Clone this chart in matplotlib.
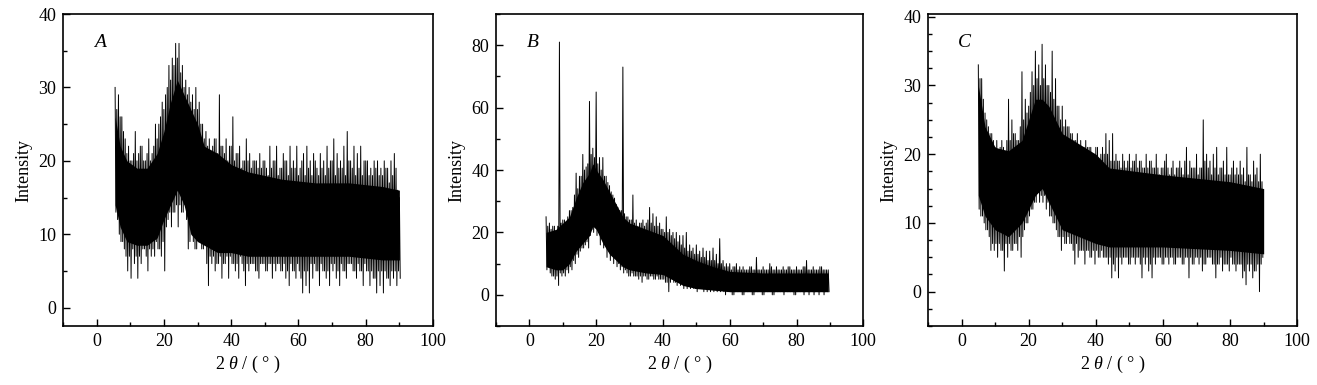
import matplotlib
matplotlib.use("Agg")
import matplotlib.pyplot as plt
from matplotlib.ticker import MultipleLocator
import numpy as np

plt.rcParams['font.family'] = ['Liberation Serif', 'DejaVu Serif']
plt.rcParams['mathtext.fontset'] = 'custom'
plt.rcParams['mathtext.rm'] = 'Liberation Serif'
plt.rcParams['mathtext.it'] = 'Liberation Serif:italic'

# noisy traces: per degree a big spike up (top), a smaller one (top2),
# and two spikes down (bot2, bot); the core lists give the solid black band
a_start = 5.5
a_top = [30, 29, 26, 23, 22, 20, 24, 21, 22, 20, 23, 21, 25, 25, 28, 29, 33, 34, 36, 36,
         33, 31, 30, 29, 30, 28, 25, 24, 23, 22, 23, 29, 22, 23, 22, 26, 21, 22, 20, 23,
         21, 20, 20, 21, 20, 19, 22, 20, 22, 19, 21, 20, 22, 20, 22, 19, 21, 22, 20, 21,
         19, 21, 20, 22, 20, 23, 21, 20, 22, 24, 20, 22, 21, 22, 20, 20, 19, 20, 20, 19,
         20, 19, 20, 21, 16]
a_top2 = [27, 26, 24, 21, 20, 21, 20, 22, 20, 21, 20, 22, 23, 26, 27, 30, 31, 33, 34, 32,
          30, 29, 28, 27, 27, 25, 23, 22, 21, 23, 21, 22, 21, 20, 22, 20, 21, 19, 20, 20,
          19, 20, 19, 19, 20, 18, 19, 20, 18, 19, 20, 18, 19, 19, 18, 20, 18, 19, 18, 20,
          18, 19, 18, 19, 20, 18, 19, 19, 18, 20, 19, 18, 19, 18, 20, 18, 18, 19, 18, 18,
          19, 17, 18, 19, 15]
a_bot2 = [13, 10, 9, 7, 7, 8, 7, 7, 8, 7, 8, 8, 9, 8, 9, 11, 13, 13, 14, 14,
          13, 12, 9, 9, 8, 9, 8, 6, 7, 7, 6, 7, 6, 7, 7, 6, 6, 7, 5, 6,
          6, 6, 5, 6, 6, 5, 6, 6, 6, 5, 6, 5, 6, 5, 6, 4, 5, 5, 6, 6,
          5, 6, 5, 5, 6, 6, 5, 6, 5, 6, 6, 5, 6, 5, 6, 5, 5, 4, 5, 5,
          5, 4, 5, 5, 5]
a_bot = [12, 9, 8, 5, 4, 6, 4, 6, 8, 5, 7, 7, 8, 7, 5, 12, 11, 13, 11, 13,
         14, 8, 11, 8, 11, 8, 10, 3, 6, 5, 6, 4, 6, 4, 6, 5, 4, 6, 3, 5,
         6, 5, 4, 6, 5, 6, 4, 5, 6, 5, 4, 3, 5, 4, 5, 2, 3, 2, 4, 5,
         3, 5, 4, 3, 5, 4, 3, 5, 4, 6, 5, 4, 5, 3, 5, 3, 4, 2, 3, 2,
         4, 3, 4, 3, 4]
a_core_x = [5.5, 7, 9, 12, 15, 18, 20, 22, 24, 26, 28, 30, 32, 36, 40, 45, 55, 65, 75, 85, 90]
a_core_lo = [14, 11, 9, 8.5, 8.5, 9.5, 12, 14, 16, 14, 10, 9, 8.5, 7.5, 7.5, 7, 7, 7, 7, 6.5, 6.5]
a_core_hi = [26, 22, 20, 19, 19, 21, 24, 28, 31, 29, 27, 25, 22, 21, 19.5, 18.5, 17.5, 17, 17, 16.5, 16]

b_start = 5.0
b_top = [25, 23, 22, 20, 81, 24, 23, 27, 28, 39, 38, 45, 41, 62, 47, 65, 44, 44, 38, 35,
         32, 29, 27, 73, 25, 24, 32, 24, 23, 24, 23, 28, 26, 25, 23, 21, 25, 21, 20, 20,
         19, 19, 20, 16, 15, 16, 14, 15, 14, 14, 15, 13, 18, 11, 10, 10, 9, 10, 9, 9,
         8, 9, 8, 12, 8, 9, 8, 10, 8, 9, 8, 9, 8, 9, 8, 9, 8, 9, 11, 8,
         9, 8, 9, 8, 8]
b_top2 = [22, 21, 22, 22, 23, 24, 25, 27, 32, 34, 38, 40, 42, 45, 44, 42, 40, 38, 36, 33,
          31, 28, 27, 26, 25, 24, 23, 22, 23, 22, 24, 23, 22, 22, 21, 20, 20, 19, 18, 17,
          16, 15, 14, 14, 13, 13, 12, 12, 11, 11, 11, 10, 10, 9, 9, 8, 9, 8, 8, 8,
          8, 9, 8, 8, 8, 8, 8, 9, 8, 8, 8, 8, 9, 8, 8, 8, 8, 9, 8, 8,
          8, 8, 9, 8, 8]
b_bot2 = [8, 7, 6, 6, 7, 7, 8, 9, 11, 13, 14, 15, 17, 19, 20, 19, 16, 15, 12, 11,
          10, 9, 8, 7, 7, 6, 6, 6, 6, 6, 5, 6, 5, 6, 5, 5, 4, 4, 4, 3,
          3, 2, 2, 2, 2, 1, 2, 1, 1, 1, 1, 1, 1, 1, 1, 1, 0, 1, 1, 0,
          1, 1, 0, 1, 1, 0, 1, 1, 0, 1, 1, 0, 1, 1, 0, 1, 1, 0, 1, 1,
          0, 1, 1, 0, 1]
b_bot = [9, 6, 5, 3, 6, 6, 7, 8, 10, 12, 15, 16, 15, 21, 22, 20, 18, 16, 14, 13,
         12, 10, 9, 8, 6, 7, 6, 5, 4, 6, 5, 6, 5, 5, 5, 4, 1, 5, 4, 5,
         4, 3, 3, 3, 2, 3, 2, 3, 2, 2, 2, 3, 2, 0, 1, 0, 1, 1, 0, 1,
         1, 0, 1, 1, 0, 1, 1, 0, 1, 1, 1, 2, 1, 1, 0, 1, 1, 1, 0, 1,
         1, 0, 1, 1, 1]
b_core_x = [5, 8, 10, 12, 14, 16, 18, 19, 20, 22, 24, 26, 28, 30, 35, 40, 46, 50, 55, 60, 70, 80, 89.5]
b_core_lo = [9, 8, 8, 10, 14, 16.5, 19, 22, 21, 16.5, 13, 11, 9, 8, 7, 6.5, 3, 2, 1.5, 1, 1, 1, 1]
b_core_hi = [20, 21, 23, 25, 31, 36, 39, 42, 40, 37, 33, 29, 25, 23, 21, 19, 13, 11, 9, 7.5, 7, 7, 7]

c_start = 5.0
c_top = [33, 31, 26, 24, 23, 21, 20, 22, 19, 28, 25, 23, 22, 32, 28, 27, 32, 35, 33, 36,
         33, 30, 35, 31, 27, 27, 25, 24, 23, 22, 21, 20, 22, 21, 20, 21, 19, 21, 23, 22,
         23, 20, 19, 20, 18, 20, 19, 20, 19, 18, 20, 19, 18, 20, 17, 18, 20, 17, 19, 18,
         19, 17, 21, 19, 18, 20, 18, 25, 20, 19, 20, 21, 18, 19, 21, 17, 19, 18, 19, 18,
         21, 17, 19, 18, 20]
c_top2 = [31, 28, 25, 23, 22, 22, 21, 21, 22, 22, 23, 22, 24, 25, 26, 29, 30, 31, 30, 31,
          30, 29, 28, 27, 25, 24, 24, 23, 22, 23, 22, 21, 21, 21, 20, 21, 20, 20, 20, 19,
          19, 19, 18, 19, 19, 18, 19, 18, 19, 18, 18, 19, 18, 18, 18, 19, 18, 18, 17, 18,
          18, 19, 17, 18, 18, 17, 18, 19, 18, 17, 18, 17, 18, 17, 17, 18, 17, 17, 17, 16,
          17, 16, 17, 16, 16]
c_bot2 = [12, 11, 9, 8, 7, 7, 7, 6, 7, 7, 6, 7, 8, 8, 10, 11, 12, 13, 13, 13,
          12, 11, 10, 9, 8, 8, 7, 7, 6, 7, 6, 6, 6, 5, 6, 6, 5, 5, 5, 5,
          4, 5, 5, 5, 5, 4, 5, 5, 4, 5, 5, 4, 5, 5, 5, 4, 5, 5, 4, 5,
          5, 4, 5, 5, 4, 5, 5, 4, 5, 5, 4, 4, 5, 4, 4, 5, 4, 4, 4, 3,
          4, 4, 3, 4, 4]
c_bot = [11, 10, 9, 6, 6, 5, 6, 3, 5, 6, 7, 6, 5, 9, 10, 12, 13, 16, 14, 14,
         13, 11, 10, 8, 6, 7, 8, 7, 4, 5, 6, 4, 6, 5, 4, 5, 6, 5, 4, 2,
         3, 2, 4, 5, 4, 5, 4, 5, 2, 4, 3, 2, 4, 5, 4, 5, 4, 5, 4, 5,
         4, 5, 2, 4, 5, 4, 3, 4, 5, 4, 2, 4, 3, 4, 3, 4, 3, 4, 2, 1,
         3, 2, 3, 0, 5]
c_core_x = [5, 7, 10, 14, 18, 22, 24, 26, 28, 30, 35, 40, 44, 60, 80, 90]
c_core_lo = [14, 11, 9, 8, 10, 14, 15, 13, 11, 9, 8, 7, 6.5, 6.5, 6, 5.5]
c_core_hi = [30, 24, 21, 20.5, 22, 28, 28, 27, 25, 23, 21.5, 20, 18, 17, 16, 15]

panels = [
    ("A", a_start, (a_top, a_bot2, a_top2, a_bot), (a_core_x, a_core_lo, a_core_hi),
     (-2.5, 40), [0, 10, 20, 30, 40], 5),
    ("B", b_start, (b_top, b_bot2, b_top2, b_bot), (b_core_x, b_core_lo, b_core_hi),
     (-10, 90), [0, 20, 40, 60, 80], 10),
    ("C", c_start, (c_top, c_bot2, c_top2, c_bot), (c_core_x, c_core_lo, c_core_hi),
     (-5, 40.4), [0, 10, 20, 30, 40], 2.5),
]
lefts = [0.0478, 0.3766, 0.7046]
widths = [0.281, 0.2789, 0.2804]


def zigzag(start, series):
    # four points per degree: up, down, up, down
    x = []
    y = []
    for i in range(len(series[0])):
        for k, s in enumerate(series):
            x.append(start + i + 0.25 * k)
            y.append(s[i])
    return np.array(x), np.array(y)


fig = plt.figure(figsize=(13.17, 3.85), dpi=100)

for (name, start, series, core, ylim, yticks, yminor), left, w in zip(panels, lefts, widths):
    ax = fig.add_axes([left, 0.1532, w, 0.8104])
    ax.fill_between(core[0], core[1], core[2], color='black', lw=0)
    x, y = zigzag(start, series)
    ax.plot(x, y, color='black', lw=0.7)
    ax.set_xlim(-10, 100)
    ax.set_ylim(*ylim)
    ax.set_xticks([0, 20, 40, 60, 80, 100])
    ax.set_yticks(yticks)
    ax.xaxis.set_minor_locator(MultipleLocator(10))
    ax.yaxis.set_minor_locator(MultipleLocator(yminor))
    ax.tick_params(which='both', direction='in', top=False, right=False,
                   labelsize=13, width=1)
    ax.tick_params(which='major', length=5, pad=5)
    ax.tick_params(which='minor', length=3)
    for s in ax.spines.values():
        s.set_linewidth(1.2)
    ax.set_ylabel('Intensity', fontsize=13, labelpad=4)
    ax.set_xlabel('2 $\\mathit{\\theta}$ / ( ° )', fontsize=13, labelpad=3)
    ax.text(0.1, 0.91, name, transform=ax.transAxes, fontsize=14,
            style='italic', ha='center', va='center')

fig.savefig('out.png', dpi=100)
